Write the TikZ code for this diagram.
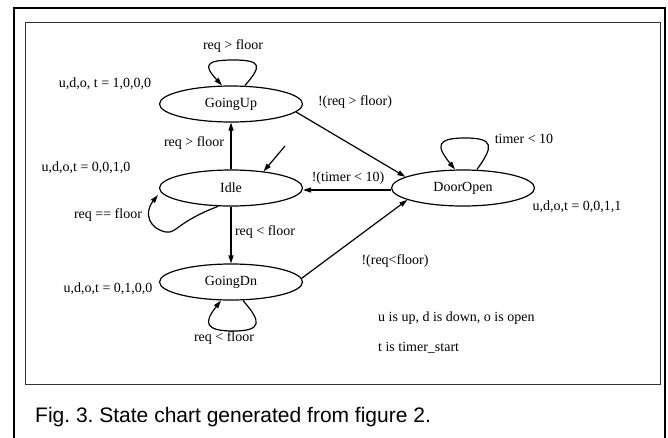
\documentclass[tikz,border=0pt]{standalone}
\usepackage{fontspec}
\setmainfont{Liberation Serif}
\newfontfamily\capfont{Liberation Sans}
\usetikzlibrary{arrows.meta,shapes.geometric}
\frenchspacing

\tikzset{
  state/.style={ellipse, draw, line width=1.2pt, minimum width=143pt,
    minimum height=36pt, inner sep=0pt, font=\fontsize{14}{16}\selectfont},
  lbl/.style={inner sep=0pt, text height=9.5pt, text depth=3pt,
    font=\fontsize{14}{16}\selectfont},
  edge/.style={line width=1.2pt, -{Triangle[length=8pt,width=5pt]}},
  frame/.style={line width=2pt},
  innerframe/.style={line width=1pt, draw=black!80},
}

\begin{document}
\begin{tikzpicture}[x=1pt,y=-1pt]
  \useasboundingbox (0,0) rectangle (668,437);

  % frames
  \draw[frame] (14,445) -- (14,8) -- (665,8) -- (665,445);
  \draw[innerframe] (25,22) rectangle (660,384);

  % states
  \node[state] (GoingUp)  at (231,104) {GoingUp};
  \node[state] (Idle)     at (231,188) {Idle};
  \node[state] (GoingDn)  at (231,282) {GoingDn};
  \node[state] (DoorOpen) at (463,188) {DoorOpen};

  % initial marker
  \coordinate (init) at (285,146);
  \draw[edge] (init) -- (Idle.27);

  % transitions between states
  \draw[edge] (Idle.north) -- (GoingUp.south);
  \draw[edge] (Idle.south) -- (GoingDn.north);
  \draw[edge] (GoingUp.-7) -- (DoorOpen.169);
  \draw[edge] ([yshift=-2pt]DoorOpen.west) -- ([yshift=-2pt]Idle.east);
  \draw[edge] (GoingDn.3) -- (DoorOpen.192);

  % self loops
  \draw[edge] ([xshift=14pt]GoingUp.north)
     .. controls (262,66) and (262,60) .. (233,60)
     .. controls (204,60) and (204,66) .. ([xshift=-9pt]GoingUp.north);
  \draw[edge] ([xshift=14pt]DoorOpen.north)
     .. controls (494,146) and (494,138) .. (465,138)
     .. controls (436,138) and (436,146) .. ([xshift=-8pt]DoorOpen.north);
  \draw[edge] ([xshift=12pt]GoingDn.south)
     .. controls (262,322) and (262,331) .. (233,331)
     .. controls (204,331) and (204,322) .. ([xshift=-10pt]GoingDn.south);
  \draw[edge] (Idle.235)
     .. controls (177,222) and (176,234) .. (166,232)
     .. controls (150,229) and (143,214) .. ([yshift=-7pt,xshift=-1pt]Idle.west);

  % transition labels
  \node[lbl] (lUpLoop)   at (233,46)  {req > floor};
  \node[lbl] (lUpDoor)   at (355,102) {!(req > floor)};
  \node[lbl] (lIdleUp)   at (194,143) {req > floor};
  \node[lbl] (lDoorIdle) at (348,178) {!(timer < 10)};
  \node[lbl] (lDoorLoop) at (524,140) {timer < 10};
  \node[lbl] (lIdleLoop) at (108,215) {req == floor};
  \node[lbl] (lIdleDn)   at (265,232) {req < floor};
  \node[lbl] (lDnDoor)   at (395,261) {!(req<floor)};
  \node[lbl] (lDnLoop)   at (224,338) {req < floor};

  % state outputs
  \node[lbl] (oUp)   at (105,84)  {u,d,o, t = 1,0,0,0};
  \node[lbl] (oIdle) at (86,168)  {u,d,o,t = 0,0,1,0};
  \node[lbl] (oDoor) at (577,207) {u,d,o,t = 0,0,1,1};
  \node[lbl] (oDn)   at (108,289) {u,d,o,t = 0,1,0,0};

  % legend
  \node[lbl, anchor=west] (leg1) at (378,318) {u is up, d is down, o is open};
  \node[lbl, anchor=west] (leg2) at (378,348) {t is timer\_start};

  % caption
  \node[inner sep=0pt, anchor=base west, font=\capfont\fontsize{21}{25}\selectfont]
    (caption) at (35,422) {Fig. 3. State chart generated from figure 2.};
\end{tikzpicture}
\end{document}
